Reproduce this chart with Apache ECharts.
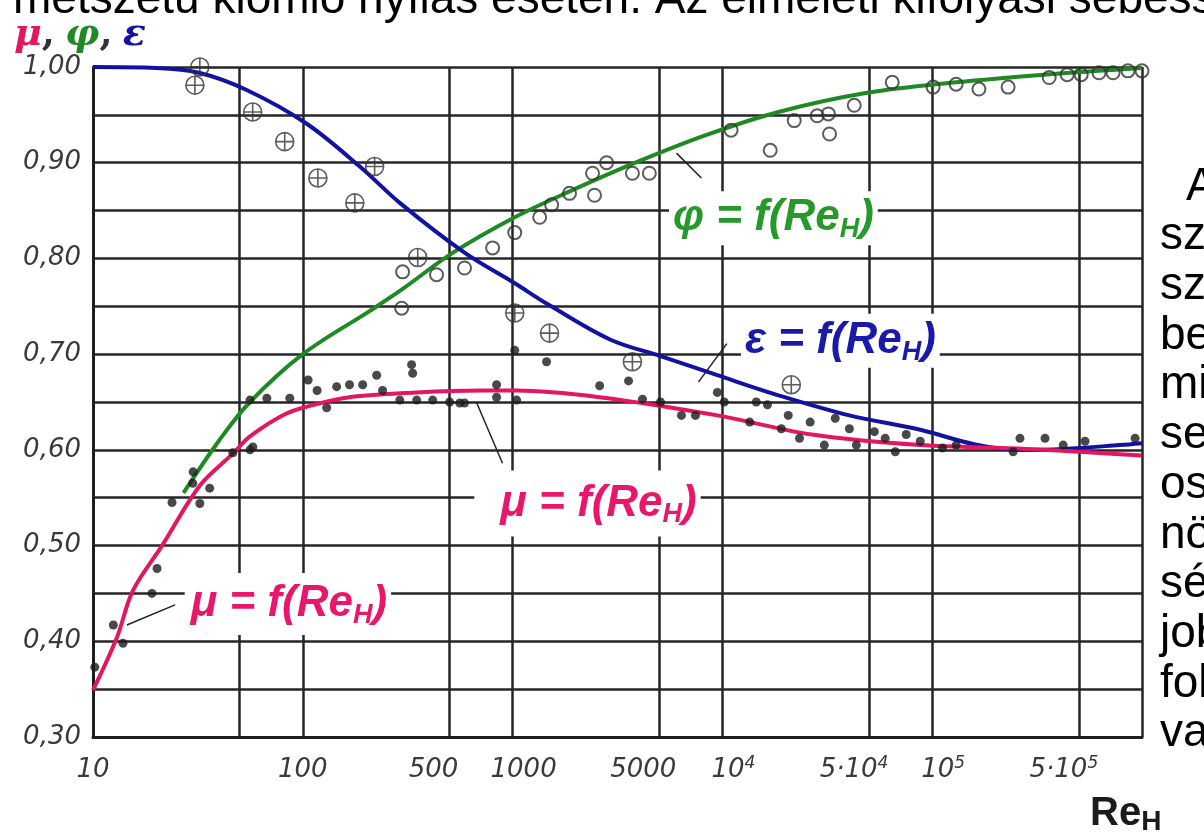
<!DOCTYPE html>
<html>
<head>
<meta charset="utf-8">
<script src="https://cdn.jsdelivr.net/npm/echarts@6.0.0/dist/echarts.min.js"></script>
<style>
html, body { margin: 0; padding: 0; background: #fff; }
#main { width: 1204px; height: 837px; }
</style>
</head>
<body>
<div id="main"></div>
<script>
// tick positions on the Re axis (gridlines) and the ones that get a label
var xTicks = [10, 50, 100, 500, 1000, 5000, 1e4, 5e4, 1e5, 5e5, 1e6];
var xLabels = [10, 100, 500, 1000, 5000, 1e4, 5e4, 1e5, 5e5, 1e6];

// fitted curves  [Re, value]
var epsCurve = [[10, 1.0], [20, 0.999], [32, 0.994], [54, 0.976], [104, 0.941], [187, 0.896], [290, 0.858],
    [590, 0.806], [1024, 0.774], [1500, 0.751], [2930, 0.715], [5070, 0.698], [9460, 0.678], [18500, 0.657],
    [40300, 0.636], [87700, 0.621], [158000, 0.606], [258000, 0.600], [421000, 0.601], [780000, 0.605], [1000000, 0.607]];
var phiCurve = [[27, 0.555], [40, 0.61], [56, 0.65], [100, 0.70], [208, 0.745], [290, 0.766], [520, 0.806],
    [1024, 0.843], [1870, 0.87], [3850, 0.90], [8400, 0.929], [18500, 0.953], [49000, 0.973], [130000, 0.984],
    [340000, 0.992], [1000000, 0.999]];
var muCurve = [[10, 0.349], [13, 0.404], [15.5, 0.453], [21.5, 0.501], [32.4, 0.563], [46.4, 0.596], [56, 0.614],
    [80, 0.636], [104, 0.645], [167, 0.655], [349, 0.66], [720, 0.662], [1045, 0.662], [2600, 0.655], [9460, 0.636],
    [26700, 0.616], [87700, 0.605], [282000, 0.601], [1000000, 0.594]];

// measured points
var epsPts = [[30.6, 0.981], [32.3, 1.0], [57.7, 0.953], [82, 0.922], [118, 0.884], [177, 0.858], [220, 0.896],
    [353, 0.801], [1024, 0.743], [1500, 0.722], [3725, 0.692], [21300, 0.668]];
var phiPts = [[296, 0.748], [299, 0.786], [434, 0.783], [590, 0.79], [803, 0.811], [1024, 0.827], [1346, 0.843],
    [1535, 0.856], [1868, 0.868], [2404, 0.889], [2805, 0.90], [2457, 0.866], [3725, 0.889], [4485, 0.889],
    [11000, 0.934], [16900, 0.913], [22000, 0.944], [28300, 0.949], [32000, 0.951], [32400, 0.93], [42500, 0.96],
    [64500, 0.984], [101000, 0.979], [130000, 0.982], [167000, 0.977], [230000, 0.979], [361000, 0.989],
    [440000, 0.992], [513000, 0.992], [624000, 0.994], [728000, 0.994], [857000, 0.996], [1000000, 0.996]];
var muPts = [[10.2, 0.373], [12.5, 0.417], [13.9, 0.398], [19.1, 0.45], [20.2, 0.476], [23.8, 0.545], [29.9, 0.565],
    [30, 0.577], [32.3, 0.544], [36, 0.56], [46.4, 0.597], [57.8, 0.603], [56, 0.60], [56, 0.652], [67.4, 0.654],
    [86.7, 0.654], [106, 0.673], [117, 0.662], [130, 0.644], [145, 0.666], [167, 0.668], [193, 0.668], [225, 0.678],
    [240, 0.662], [334, 0.68], [290, 0.652], [349, 0.652], [416, 0.652], [501, 0.65], [590, 0.649], [839, 0.655],
    [1045, 0.652], [1024, 0.704], [1452, 0.692], [330, 0.689], [839, 0.668], [560, 0.649],
    [3570, 0.672], [2600, 0.667], [4160, 0.653], [5070, 0.65], [6380, 0.636], [7440, 0.636], [9460, 0.66],
    [10200, 0.65], [13500, 0.629], [14500, 0.65], [16400, 0.647], [19100, 0.622], [20600, 0.636], [23300, 0.612],
    [26200, 0.629], [30600, 0.605], [34500, 0.633], [40300, 0.622], [43500, 0.605], [53000, 0.619], [59700, 0.612],
    [66700, 0.598], [75200, 0.616], [87700, 0.609], [112000, 0.602], [130000, 0.605], [243000, 0.598],
    [262000, 0.612], [345000, 0.612], [421000, 0.605], [535000, 0.609], [927000, 0.612]];

var PINK = '#e3165f', GREEN = '#1f8a23', BLUE = '#1212a2';

var xLabelText = {
    10: '{c|10}', 100: '{c|100}', 500: '{l|500}', 1000: '{r|1000}', 5000: '{l|5000}',
    10000: '{r|10}{s|4}', 50000: '{c|5·10}{ls|4}', 100000: '{r|10}{s|5}',
    500000: '{c|5·10}{ls|5}', 1000000: '{rr|10}{s|6}'
};

function eqLabel(color, pad) {
    var base = {fontSize: 44, fontWeight: 'bold', fontStyle: 'italic', fontFamily: 'Liberation Sans', color: color};
    return {
        show: true,
        position: 'inside',
        formatter: '{a|' + '= f(Re}{s|H}{a|)}',
        backgroundColor: '#fff',
        padding: pad,
        rich: {
            g: echarts.util.extend({lineHeight: 50, fontFamily: 'DejaVu Serif'}, base),
            a: echarts.util.extend({lineHeight: 50}, base),
            s: {fontSize: 27, fontWeight: 'bold', fontStyle: 'italic', fontFamily: 'Liberation Sans', color: color,
                lineHeight: 27, verticalAlign: 'bottom'}
        }
    };
}

var myChart = echarts.init(document.getElementById('main'));

var lineFont = {fontStyle: 'italic', fontFamily: 'DejaVu Sans', color: '#3a3a3a', fontSize: 26};
var greek = {fontSize: 38, fontStyle: 'italic', fontWeight: 'bold', fontFamily: 'DejaVu Serif'};

var slideLines = ['A', 'sz', 'sz', 'be', 'mi', 'se', 'os', 'nö', 'sé', 'job', 'fol', 'va'];
var graphics = [{
    type: 'text', x: 13, y: 0,
    style: {text: 'metszetű kiömlő nyílás esetén. Az elméleti kifolyási sebesség', fontSize: 46,
        fontFamily: 'Liberation Sans', fill: '#000', verticalAlign: 'middle'}
}];
slideLines.forEach(function (t, i) {
    graphics.push({
        type: 'text', x: i === 0 ? 1186 : 1160, y: 187 + i * 49.7,
        style: {text: t, fontSize: 46, fontFamily: 'Liberation Sans', fill: '#000', verticalAlign: 'middle'}
    });
});

option = {
    animation: false,
    title: [{
        text: '{m|μ}{c|,}  {p|φ}{c|,}  {e|ε}',
        left: 14, top: 16, padding: 0,
        textStyle: {
            rich: {
                m: echarts.util.extend({color: PINK}, greek),
                p: echarts.util.extend({color: GREEN}, greek),
                e: echarts.util.extend({color: BLUE}, greek),
                c: {color: '#333', fontSize: 38, fontWeight: 'bold', fontFamily: 'DejaVu Serif'}
            }
        }
    }, {
        text: '{a|Re}{s|H}',
        left: 1090, top: 792, padding: 0,
        textStyle: {
            rich: {
                a: {fontSize: 40, fontWeight: 'bold', fontFamily: 'Liberation Sans', color: '#1a1a1a', lineHeight: 44},
                s: {fontSize: 28, fontWeight: 'bold', fontFamily: 'Liberation Sans', color: '#1a1a1a',
                    lineHeight: 28, verticalAlign: 'bottom'}
            }
        }
    }],
    graphic: graphics,
    grid: {left: 93, right: 62, top: 67, bottom: 100},
    xAxis: {
        type: 'log',
        logBase: 10,
        min: 10,
        max: 1e6,
        axisLine: {show: true, lineStyle: {color: '#1e1e1e', width: 3}},
        axisTick: {show: false, customValues: xTicks},
        splitLine: {show: true, lineStyle: {color: '#262626', width: 2.5}},
        axisLabel: {
            customValues: xLabels,
            margin: 18,
            formatter: function (value) {
                var v = value < 7 ? Math.pow(10, value) : value;
                return xLabelText[Math.round(v)] || '';
            },
            rich: {
                c: echarts.util.extend({lineHeight: 30}, lineFont),
                l: echarts.util.extend({lineHeight: 30, padding: [0, 32, 0, 0]}, lineFont),
                r: echarts.util.extend({lineHeight: 30, padding: [0, 0, 0, 22]}, lineFont),
                rr: echarts.util.extend({lineHeight: 30, padding: [0, 0, 0, 64]}, lineFont),
                s: {fontStyle: 'italic', fontFamily: 'DejaVu Sans', color: '#3a3a3a', fontSize: 17,
                    lineHeight: 17, verticalAlign: 'top'},
                ls: {fontStyle: 'italic', fontFamily: 'DejaVu Sans', color: '#3a3a3a', fontSize: 17,
                    lineHeight: 17, verticalAlign: 'top', padding: [0, 30, 0, 0]}
            }
        }
    },
    yAxis: {
        type: 'value',
        min: 0.3,
        max: 1.0,
        interval: 0.05,
        axisLine: {show: true, lineStyle: {color: '#1e1e1e', width: 3}},
        axisTick: {show: false},
        splitLine: {show: true, lineStyle: {color: '#262626', width: 2.5}},
        axisLabel: echarts.util.extend({
            margin: 12,
            formatter: function (v) {
                var t = Math.round(v * 100);
                return t % 10 === 0 ? (t / 100).toFixed(2).replace('.', ',') : '';
            }
        }, lineFont)
    },
    series: [
        {
            name: 'φ', type: 'line', data: phiCurve, smooth: 0.35, showSymbol: false,
            lineStyle: {color: GREEN, width: 4}, z: 3,
            markPoint: {
                symbol: 'circle', symbolSize: 0, silent: true,
                label: (function () { var l = eqLabel('#27992b', [2, 4, 2, 4]); l.formatter = '{g|φ }' + l.formatter; return l; })(),
                data: [{coord: [17500, 0.842]}]
            }
        },
        {
            name: 'ε', type: 'line', data: epsCurve, smooth: 0.35, showSymbol: false,
            lineStyle: {color: BLUE, width: 4}, z: 3,
            markPoint: {
                symbol: 'circle', symbolSize: 0, silent: true,
                label: (function () { var l = eqLabel('#1a1aa8', [2, 4, 2, 4]); l.formatter = '{g|ε }' + l.formatter; return l; })(),
                data: [{coord: [36500, 0.714]}]
            }
        },
        {
            name: 'μ', type: 'line', data: muCurve, smooth: 0.35, showSymbol: false,
            lineStyle: {color: PINK, width: 4}, z: 3,
            markPoint: {
                symbol: 'circle', symbolSize: 0, silent: true,
                label: (function () { var l = eqLabel('#e8176b', [8, 4, 8, 26]); l.formatter = '{g|μ }' + l.formatter; return l; })(),
                data: [
                    {coord: [2275, 0.544]},
                    {coord: [84.9, 0.439], label: {padding: [6, 4, 6, 6]}}
                ]
            },
            markLine: {
                silent: true, symbol: ['none', 'none'],
                lineStyle: {color: '#222', width: 1.5, type: 'solid'},
                label: {show: false},
                data: [
                    [{coord: [6040, 0.91]}, {coord: [7940, 0.884]}],
                    [{coord: [7700, 0.671]}, {coord: [10500, 0.711]}],
                    [{coord: [675, 0.649]}, {coord: [895, 0.586]}],
                    [{coord: [24.6, 0.438]}, {coord: [14.5, 0.417]}]
                ]
            }
        },
        {
            name: 'ε mért', type: 'scatter', data: epsPts, z: 5,
            symbol: 'path://M20,10A10,10,0,1,1,0,10A10,10,0,1,1,20,10ZM0,10L20,10M10,0L10,20',
            symbolSize: 18,
            itemStyle: {color: 'rgba(255,255,255,0)', borderColor: '#333', borderWidth: 1.6}
        },
        {
            name: 'φ mért', type: 'scatter', data: phiPts, z: 5,
            symbol: 'circle', symbolSize: 13,
            itemStyle: {color: 'rgba(255,255,255,0)', borderColor: '#333', borderWidth: 2}
        },
        {
            name: 'μ mért', type: 'scatter', data: muPts, z: 5,
            symbol: 'circle', symbolSize: 9,
            itemStyle: {color: '#1c1c1c'}
        }
    ]
};
myChart.setOption(option);
</script>
</body>
</html>
